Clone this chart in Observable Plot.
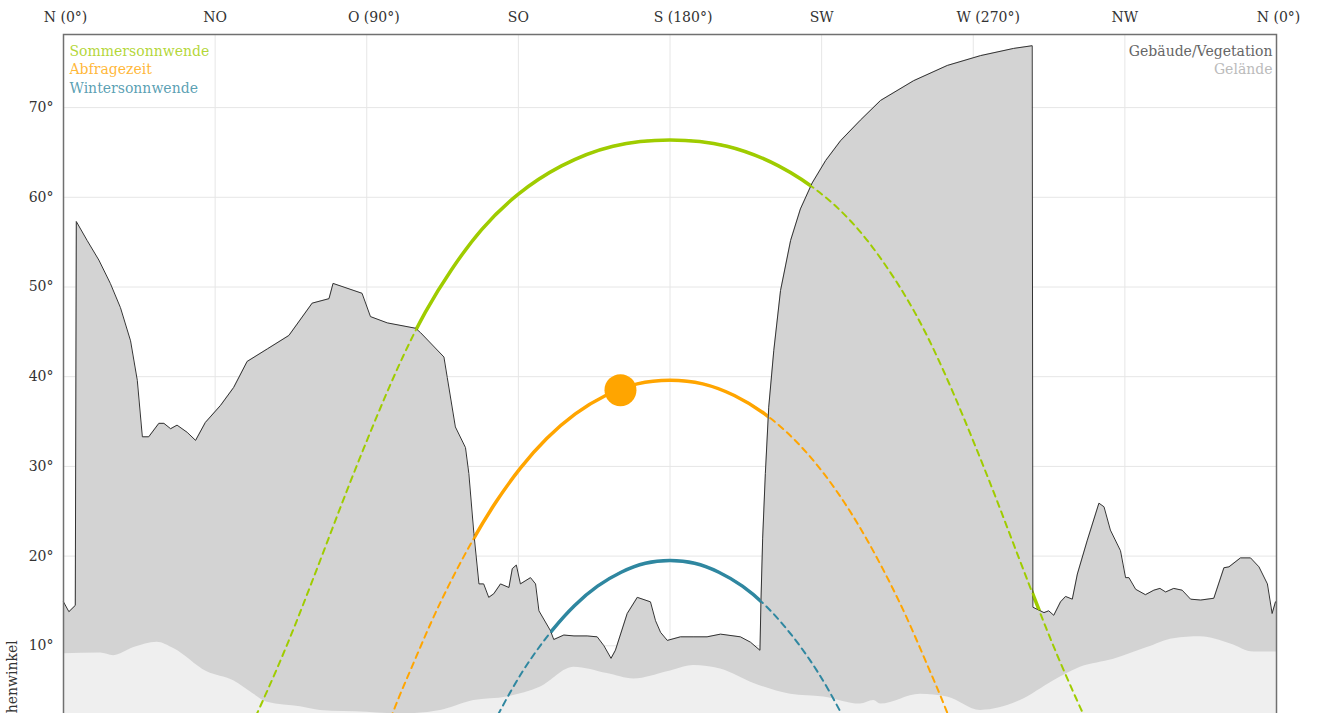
<!DOCTYPE html>
<html>
<head>
<meta charset="utf-8">
<script src="https://cdn.jsdelivr.net/npm/d3@7"></script>
<script src="https://cdn.jsdelivr.net/npm/@observablehq/plot@0.6"></script>
<style>
  html, body { margin: 0; padding: 0; background: white; }
  #wrap { width: 1317px; height: 713px; overflow: hidden; }
</style>
</head>
<body>
<div id="wrap"></div>
<script>
// ---- Axis ticks ----
const xTicks = [0, 45, 90, 135, 180, 225, 270, 315, 360];
const xTickLabels = ["N (0°)", "NO", "O (90°)", "SO", "S (180°)", "SW", "W (270°)", "NW", "N (0°)"];
const yTicks = [10, 20, 30, 40, 50, 60, 70];

// ---- Obstacle profile: Gebäude/Vegetation (azimuth °, elevation °) ----
const buildingAz = [0, 1.6, 3.5, 3.8, 7.0, 10.5, 13.9, 16.9, 19.9, 21.9, 23.4, 25.3, 28.3, 29.8, 31.8, 33.7, 36.7, 39.2, 42.1, 46.6, 50.5, 54.5, 60.5, 66.9, 73.8, 78.8, 80.0, 88.6, 91.1, 96.1, 104.5, 106, 112.9, 113.9, 116.3, 119.3, 120.3, 121.8, 123.3, 124.7, 126.2, 127.7, 129.7, 132.2, 133.2, 134.4, 135.6, 138.6, 140.1, 141.1, 144.5, 145.5, 148.5, 151.5, 155.4, 158.4, 160.4, 162.5, 163.8, 167.3, 170.3, 174.2, 175.7, 177.2, 179.2, 183.1, 187.1, 191.0, 195.0, 200.9, 203.9, 206.7, 207.0, 207.5, 208.3, 209.3, 210.8, 212.8, 215.8, 218.7, 222.2, 226.2, 230.6, 236.5, 242.5, 252.3, 262.3, 272.2, 282.0, 287.5, 287.7, 291.0, 292.4, 293.9, 295.9, 297.4, 299.4, 300.9, 303.8, 307.3, 308.8, 310.7, 313.7, 315.2, 316.2, 318.2, 321.1, 323.6, 325.4, 327.1, 329.5, 332.0, 334.5, 337.5, 341.4, 344.4, 345.9, 349.3, 352.3, 354.8, 357.3, 358.7, 359.7, 360];
const buildingEl = [14.9, 13.8, 14.5, 57.3, 55.2, 53.0, 50.4, 47.7, 44.0, 39.6, 33.3, 33.3, 34.8, 34.8, 34.2, 34.6, 33.8, 32.9, 34.9, 36.8, 38.8, 41.7, 43.1, 44.6, 48.2, 48.7, 50.4, 49.3, 46.7, 46.0, 45.4, 44.9, 42.2, 39.9, 34.4, 32.1, 29.2, 22.5, 16.9, 16.9, 15.4, 15.8, 16.9, 16.5, 18.6, 19.0, 16.9, 17.6, 16.9, 13.9, 11.7, 10.7, 11.2, 11.1, 11.1, 11.0, 10.0, 8.6, 9.5, 13.6, 15.4, 14.9, 12.8, 11.5, 10.6, 11.0, 11.0, 11.0, 11.3, 11.0, 10.4, 9.5, 15.0, 22.0, 29.2, 36.6, 42.9, 49.6, 55.2, 58.7, 61.6, 64.1, 66.3, 68.6, 70.8, 73.0, 74.7, 75.8, 76.6, 76.9, 14.3, 13.7, 13.9, 13.4, 14.9, 15.5, 15.2, 18.0, 21.7, 25.9, 25.5, 22.9, 20.6, 17.6, 17.6, 16.3, 15.7, 16.2, 16.4, 16.0, 16.4, 16.2, 15.2, 15.1, 15.3, 18.7, 18.8, 19.8, 19.8, 18.8, 16.9, 13.6, 14.9, 14.9];

// ---- Terrain profile: Gelände ----
const terrainAz = [0, 11.0, 14.9, 20.9, 27.8, 32.7, 42.6, 50.5, 56.5, 60.5, 70.3, 76.3, 90, 100, 111.9, 121.8, 131.7, 141.6, 151.5, 161.4, 169.3, 179.2, 187.1, 195.0, 204.9, 215.8, 225.6, 236.5, 240.5, 242.5, 254.3, 262.3, 272.2, 284.0, 293.9, 301.8, 311.7, 321.6, 329.5, 337.5, 346.4, 353.3, 360];
const terrainEl = [9.1, 9.2, 8.9, 9.8, 10.4, 9.7, 7.1, 6.1, 4.6, 3.7, 3.2, 2.8, 2.6, 2.4, 2.8, 3.9, 4.3, 5.4, 7.6, 6.9, 6.3, 7.1, 7.8, 7.4, 5.8, 4.6, 4.3, 3.5, 3.9, 3.5, 4.6, 4.3, 2.8, 3.9, 6.1, 7.6, 8.5, 9.8, 10.8, 11.0, 10.2, 9.3, 9.3];

// ---- Sun paths (azimuth °, elevation °) ----
const summerAz = [54.3, 58.1, 63.3, 68.5, 73.5, 78.6, 83.7, 89.1, 94.7, 100.7, 107.4, 115.1, 124.1, 134.8, 147.8, 163.1, 180, 196.9, 212.2, 225.2, 235.9, 244.9, 252.6, 259.3, 265.3, 270.9, 276.3, 281.4, 286.5, 291.5, 296.7, 301.9, 305.7];
const summerEl = [-0.1, 3.0, 7.4, 12.1, 16.9, 21.9, 26.9, 32.0, 37.1, 42.2, 47.2, 51.9, 56.4, 60.3, 63.5, 65.7, 66.4, 65.7, 63.5, 60.3, 56.4, 51.9, 47.2, 42.2, 37.1, 32.0, 26.9, 21.9, 16.9, 12.1, 7.4, 3.0, -0.1];
const queryAz = [94.5, 96.0, 99.6, 103.4, 109.1, 115.1, 121.5, 128.3, 135.6, 143.4, 151.9, 160.9, 170.3, 180, 189.7, 199.1, 208.1, 216.6, 224.4, 231.7, 238.5, 244.9, 250.9, 256.6, 260.4, 264.0, 265.5];
const queryEl = [-0.4, 0.9, 4.3, 7.65, 12.6, 17.3, 21.8, 26.0, 29.8, 33.1, 35.85, 37.9, 39.2, 39.6, 39.2, 37.9, 35.85, 33.1, 29.8, 26.0, 21.8, 17.3, 12.6, 7.65, 4.3, 0.9, -0.4];
const winterAz = [125.9, 127.4, 133.0, 139.0, 145.2, 151.7, 158.5, 165.5, 172.7, 180, 187.3, 194.5, 201.5, 208.3, 214.8, 221.0, 227.0, 232.6, 234.1];
const winterEl = [0.1, 1.2, 5.1, 8.7, 11.8, 14.5, 16.65, 18.2, 19.2, 19.5, 19.2, 18.2, 16.65, 14.5, 11.8, 8.7, 5.1, 1.2, 0.1];

// current sun position (Abfragezeit)
const sunAz = [165.3];
const sunEl = [38.5];

// ---- Texts ----
const legendLeft = ["Sommersonnwende", "Abfragezeit", "Wintersonnwende"];
const legendRight = ["Gebäude/Vegetation", "Gelände"];
const yLabel = "Höhenwinkel";

// ---- Styles ----
const colSummer = "#9fcc00";
const colQuery = "#ffa500";
const colWinter = "#2f87a0";
const legendColorsLeft = [colSummer, colQuery, colWinter];
const legendColorsRight = ["#666666", "#bbbbbb"];
const xLabelShift = [2, 0, 7, 0, 13, 0, 15, 0, 2];

const zip = (a, b) => a.map((az, i) => ({az, el: b[i]}));
const building = zip(buildingAz, buildingEl);
const terrain = zip(terrainAz, terrainEl);
const paths = [
  {data: zip(summerAz, summerEl), color: colSummer},
  {data: zip(queryAz, queryEl), color: colQuery},
  {data: zip(winterAz, winterEl), color: colWinter}
];
const sun = zip(sunAz, sunEl);

const marks = [
  Plot.ruleX(xTicks, {stroke: "#e6e6e6", strokeWidth: 1}),
  Plot.ruleY(yTicks, {stroke: "#e6e6e6", strokeWidth: 1}),
  ...paths.map(p => Plot.line(p.data, {x: "az", y: "el", stroke: p.color, strokeWidth: 3.5, curve: "natural"})),
  Plot.areaY(building, {x: "az", y: "el", fill: "#d3d3d3"}),
  Plot.areaY(terrain, {x: "az", y: "el", fill: "#efefef", curve: "monotone-x"}),
  Plot.line(building, {x: "az", y: "el", stroke: "#333", strokeWidth: 1}),
  ...paths.map(p => Plot.line(p.data, {x: "az", y: "el", stroke: p.color, strokeWidth: 2, strokeDasharray: "6,5", curve: "natural"})),
  Plot.dot(sun, {x: "az", y: "el", r: 16, fill: colQuery, stroke: "none"}),
  ...legendLeft.map((t, i) => Plot.text([t], {frameAnchor: "top-left", textAnchor: "start", lineAnchor: "middle", dx: 6, dy: 17 + i * 18.5, fill: legendColorsLeft[i], fillOpacity: 0.8, fontSize: 14})),
  ...legendRight.map((t, i) => Plot.text([t], {frameAnchor: "top-right", textAnchor: "end", lineAnchor: "middle", dx: -4, dy: 17 + i * 18.5, fill: legendColorsRight[i], fontSize: 14})),
  ...xTicks.map((t, i) => Plot.text([t], {x: d => d, text: () => xTickLabels[i], frameAnchor: "top", textAnchor: "middle", lineAnchor: "middle", dy: -17, dx: xLabelShift[i], fill: "#333", fontSize: 14})),
  Plot.text([yLabel], {frameAnchor: "left", rotate: -90, textAnchor: "middle", lineAnchor: "middle", dx: -51, dy: 302, fill: "#333", fontSize: 14}),
  Plot.frame({stroke: "#707070", strokeWidth: 1.5})
];

const chart = Plot.plot({
  width: 1317,
  height: 760,
  marginTop: 34,
  marginLeft: 63,
  marginRight: 41,
  marginBottom: 25,
  style: {fontFamily: "DejaVu Serif", fontSize: "14px", color: "#333", background: "white", overflow: "hidden"},
  x: {domain: [0, 360], axis: null},
  y: {domain: [0, 78.15], ticks: yTicks, tickFormat: d => d + "°", tickSize: 0, tickPadding: 10, label: null},
  marks
});
document.getElementById("wrap").appendChild(chart);
</script>
</body>
</html>
